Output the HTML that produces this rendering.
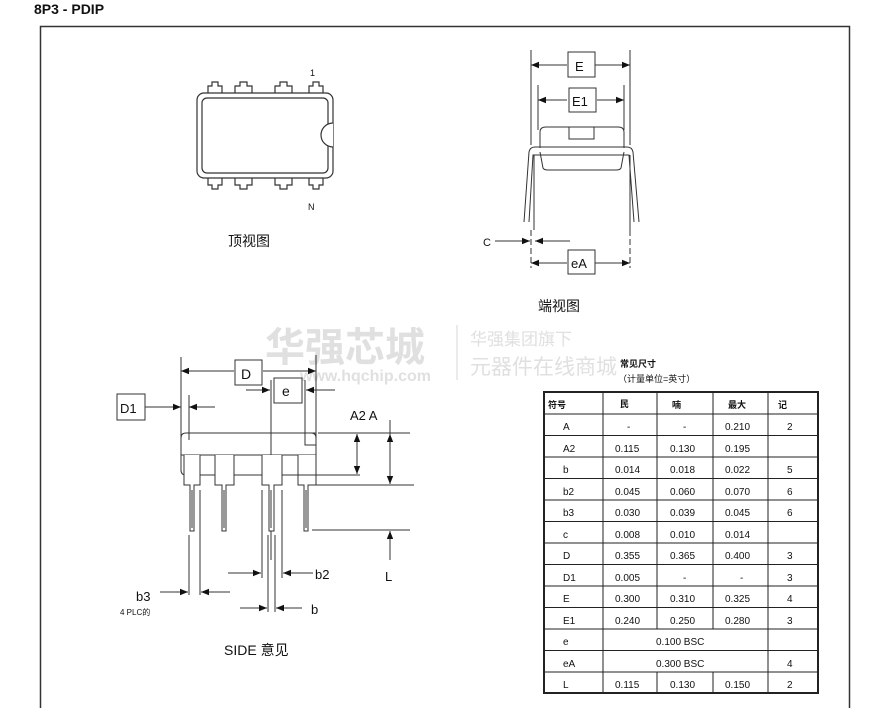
<!DOCTYPE html>
<html><head><meta charset="utf-8"><style>
body{margin:0;background:#fff;width:888px;height:708px;overflow:hidden}
text{font-family:"Liberation Sans","Noto Sans CJK SC",sans-serif;fill:#111}
</style></head><body>
<svg width="888" height="708" viewBox="0 0 888 708" xmlns="http://www.w3.org/2000/svg">
<defs>
<marker id="a" viewBox="0 0 10 10" refX="10" refY="5" markerWidth="14" markerHeight="8" markerUnits="userSpaceOnUse" orient="auto-start-reverse"><path d="M0,1 L10,5 L0,9 z" fill="#111"/></marker>
</defs>
<text x="34" y="14" font-size="14" font-weight="bold">8P3 - PDIP</text>
<rect x="40.5" y="26.5" width="809" height="700" fill="none" stroke="#333" stroke-width="1.5"/>

<g>
<text x="265" y="361" font-size="40" font-weight="bold" style="fill:#e0e0e0">华强芯城</text>
<text x="300" y="381" font-size="16" font-weight="bold" style="fill:#e0e0e0">www.hqchip.com</text>
<text x="470" y="345" font-size="17" style="fill:#e0e0e0">华强集团旗下</text>
<text x="470" y="374" font-size="21" style="fill:#e0e0e0">元器件在线商城</text>
</g>
<line x1="457" y1="325" x2="457" y2="380" stroke="#e4e4e4" stroke-width="1.5"/>

<g fill="none" stroke="#333" stroke-width="1.2">
<rect x="197" y="93" width="136" height="85" rx="7"/>
<rect x="202" y="98" width="126" height="75" rx="5"/>
<path d="M333,123 A12,12 0 0 0 333,147" fill="#fff"/>
<g id="pt">
<path d="M208,93 V86 H212 V82 H218 V86 H222 V93"/>
<path d="M235,93 V86 H240 V82 H247 V86 H252 V93"/>
<path d="M275,93 V86 H280 V82 H287 V86 H292 V93"/>
<path d="M309,93 V86 H313 V82 H319 V86 H323 V93"/>
</g>
<use href="#pt" transform="translate(0,271) scale(1,-1)"/>
</g>
<text x="310" y="76" font-size="9">1</text>
<text x="308" y="210" font-size="9">N</text>
<text x="228" y="246" font-size="14">顶视图</text>

<g fill="none" stroke="#333" stroke-width="1">
<line x1="531" y1="50" x2="531" y2="145"/><line x1="630" y1="50" x2="630" y2="145"/>
<line x1="538" y1="85" x2="538" y2="130"/><line x1="624" y1="85" x2="624" y2="130"/>
<line x1="531" y1="65" x2="567" y2="65" marker-start="url(#a)"/><line x1="595" y1="65" x2="630" y2="65" marker-end="url(#a)"/>
<line x1="538" y1="100" x2="567" y2="100" marker-start="url(#a)"/><line x1="597" y1="100" x2="624" y2="100" marker-end="url(#a)"/>
<rect x="568" y="52" width="27" height="25"/>
<rect x="569" y="88" width="27" height="24"/>
<path d="M540,148 V132 Q540,127 546,127 H618 Q624,127 624,132 V148"/>
<rect x="569" y="127" width="25" height="12"/>
<path d="M540,152 L543,168 Q544,170 548,170 H616 Q620,170 621,168 L624,152"/>
<path d="M524,222 L529,152 Q530,147 535,147 H627 Q632,147 633,152 L639,222"/>
<path d="M529,222 L533,155 H629 L634,222"/>
<line x1="534" y1="155" x2="534" y2="230"/><line x1="630" y1="155" x2="630" y2="230"/>
<line x1="531" y1="230" x2="531" y2="268" stroke-dasharray="6,3"/><line x1="630" y1="230" x2="630" y2="268" stroke-dasharray="6,3"/>
<line x1="495" y1="241" x2="530" y2="241" marker-end="url(#a)"/><line x1="570" y1="241" x2="535" y2="241" marker-end="url(#a)"/>
<line x1="531" y1="263" x2="567" y2="263" marker-start="url(#a)"/><line x1="595" y1="263" x2="630" y2="263" marker-end="url(#a)"/>
<rect x="568" y="250" width="27" height="24"/>
</g>
<text x="575" y="71" font-size="13">E</text>
<text x="572" y="106" font-size="13">E1</text>
<text x="483" y="246" font-size="11">C</text>
<text x="571" y="268" font-size="13">eA</text>
<text x="538" y="311" font-size="14">端视图</text>

<g fill="none" stroke="#333" stroke-width="1">
<line x1="181" y1="357" x2="181" y2="440"/><line x1="316" y1="355" x2="316" y2="440"/>
<line x1="181" y1="371" x2="234" y2="371" marker-start="url(#a)"/><line x1="263" y1="371" x2="316" y2="371" marker-end="url(#a)"/>
<rect x="235" y="360" width="27" height="25"/>
<rect x="274" y="378" width="28" height="25"/>
<line x1="246" y1="390" x2="270" y2="390" marker-end="url(#a)"/><line x1="335" y1="390" x2="306" y2="390" marker-end="url(#a)"/>
<line x1="271" y1="380" x2="271" y2="560"/><line x1="305" y1="380" x2="305" y2="440"/>
<rect x="117" y="394" width="28" height="26"/>
<line x1="145" y1="407" x2="181" y2="407" marker-end="url(#a)"/><line x1="215" y1="407" x2="189" y2="407" marker-end="url(#a)"/>
<line x1="189" y1="395" x2="189" y2="440"/>
<path d="M181,455 V438 Q181,433 186,433 H311 Q316,433 316,438 V455"/>
<rect x="305" y="433" width="11" height="12"/>
<path d="M181,455 H316"/>
<path d="M181,455 V470 Q181,475 186,475 H316 V455"/>
<path d="M184,455 V485 H190 V531 H194 V485 H200 V455" fill="#fff"/>
<path d="M215,455 V485 H222 V531 H226 V485 H234 V455" fill="#fff"/>
<path d="M262,455 V485 H269 V531 H274 V485 H282 V455" fill="#fff"/>
<path d="M298,455 V485 H304 V531 H308 V485 H316 V455" fill="#fff"/>
<line x1="192" y1="490" x2="192" y2="528"/><line x1="224" y1="490" x2="224" y2="528"/><line x1="271" y1="490" x2="271" y2="528"/><line x1="306" y1="490" x2="306" y2="528"/>
<line x1="318" y1="433" x2="410" y2="433"/><line x1="296" y1="475" x2="360" y2="475"/><line x1="312" y1="485" x2="414" y2="485"/><line x1="312" y1="530" x2="410" y2="530"/>
<line x1="357" y1="455" x2="357" y2="434" marker-end="url(#a)"/><line x1="357" y1="455" x2="357" y2="474" marker-end="url(#a)"/>
<line x1="390" y1="420" x2="390" y2="434"/><line x1="390" y1="458" x2="390" y2="434" marker-end="url(#a)"/><line x1="390" y1="458" x2="390" y2="484" marker-end="url(#a)"/>
<line x1="390" y1="560" x2="390" y2="531" marker-end="url(#a)"/>
<line x1="189" y1="535" x2="189" y2="595"/><line x1="200" y1="490" x2="200" y2="595"/>
<line x1="160" y1="592" x2="188" y2="592" marker-end="url(#a)"/><line x1="230" y1="592" x2="201" y2="592" marker-end="url(#a)"/>
<line x1="262" y1="490" x2="262" y2="578"/><line x1="282" y1="490" x2="282" y2="578"/>
<line x1="228" y1="573" x2="261" y2="573" marker-end="url(#a)"/><line x1="313" y1="573" x2="283" y2="573" marker-end="url(#a)"/>
<line x1="268" y1="535" x2="268" y2="612"/><line x1="275" y1="535" x2="275" y2="612"/>
<line x1="240" y1="608" x2="267" y2="608" marker-end="url(#a)"/><line x1="302" y1="608" x2="276" y2="608" marker-end="url(#a)"/>
</g>
<text x="241" y="379" font-size="14">D</text>
<text x="282" y="396" font-size="14">e</text>
<text x="120" y="413" font-size="13">D1</text>
<text x="350" y="420" font-size="13">A2 A</text>
<text x="385" y="581" font-size="13">L</text>
<text x="136" y="601" font-size="13">b3</text>
<text x="120" y="615" font-size="8">4 PLC的</text>
<text x="315" y="579" font-size="13">b2</text>
<text x="311" y="614" font-size="13">b</text>
<text x="224" y="655" font-size="14">SIDE 意见</text>

<text x="620" y="367" font-size="9" font-weight="bold">常见尺寸</text>
<text x="618" y="382" font-size="9">（计量单位=英寸）</text>
<g stroke="#222" fill="none">
<rect x="544" y="392" width="274" height="301" stroke-width="2"/>
<g stroke-width="1">
<line x1="544" y1="414" x2="818" y2="414"/><line x1="544" y1="435.5" x2="818" y2="435.5"/><line x1="544" y1="457" x2="818" y2="457"/><line x1="544" y1="478.5" x2="818" y2="478.5"/><line x1="544" y1="500" x2="818" y2="500"/><line x1="544" y1="521.5" x2="818" y2="521.5"/><line x1="544" y1="543" x2="818" y2="543"/><line x1="544" y1="564.5" x2="818" y2="564.5"/><line x1="544" y1="586" x2="818" y2="586"/><line x1="544" y1="607.5" x2="818" y2="607.5"/><line x1="544" y1="629" x2="818" y2="629"/><line x1="544" y1="650.5" x2="818" y2="650.5"/><line x1="544" y1="672" x2="818" y2="672"/>
<line x1="603" y1="392" x2="603" y2="693"/>
<line x1="657" y1="392" x2="657" y2="629"/><line x1="657" y1="672" x2="657" y2="693"/>
<line x1="713" y1="392" x2="713" y2="629"/><line x1="713" y1="672" x2="713" y2="693"/>
<line x1="768" y1="392" x2="768" y2="693"/>
</g></g>
<g font-size="10">
<text x="548" y="408" font-weight="bold" font-size="9">符号</text><text x="620" y="407" font-weight="bold" font-size="9">民</text><text x="672" y="408" font-weight="bold" font-size="9">喃</text><text x="728" y="408" font-weight="bold" font-size="9">最大</text><text x="778" y="408" font-weight="bold" font-size="9">记</text>
<text x="563" y="430">A</text><text x="627" y="430">-</text><text x="683" y="430">-</text><text x="725" y="430">0.210</text><text x="787" y="430">2</text>
<text x="563" y="452">A2</text><text x="615" y="452">0.115</text><text x="670" y="452">0.130</text><text x="725" y="452">0.195</text>
<text x="563" y="473">b</text><text x="615" y="473">0.014</text><text x="670" y="473">0.018</text><text x="725" y="473">0.022</text><text x="787" y="473">5</text>
<text x="563" y="495">b2</text><text x="615" y="495">0.045</text><text x="670" y="495">0.060</text><text x="725" y="495">0.070</text><text x="787" y="495">6</text>
<text x="563" y="516">b3</text><text x="615" y="516">0.030</text><text x="670" y="516">0.039</text><text x="725" y="516">0.045</text><text x="787" y="516">6</text>
<text x="563" y="538">c</text><text x="615" y="538">0.008</text><text x="670" y="538">0.010</text><text x="725" y="538">0.014</text>
<text x="563" y="559">D</text><text x="615" y="559">0.355</text><text x="670" y="559">0.365</text><text x="725" y="559">0.400</text><text x="787" y="559">3</text>
<text x="563" y="581">D1</text><text x="615" y="581">0.005</text><text x="683" y="581">-</text><text x="740" y="581">-</text><text x="787" y="581">3</text>
<text x="563" y="602">E</text><text x="615" y="602">0.300</text><text x="670" y="602">0.310</text><text x="725" y="602">0.325</text><text x="787" y="602">4</text>
<text x="563" y="624">E1</text><text x="615" y="624">0.240</text><text x="670" y="624">0.250</text><text x="725" y="624">0.280</text><text x="787" y="624">3</text>
<text x="563" y="645">e</text><text x="656" y="645">0.100 BSC</text>
<text x="563" y="667">eA</text><text x="656" y="667">0.300 BSC</text><text x="787" y="667">4</text>
<text x="563" y="688">L</text><text x="615" y="688">0.115</text><text x="670" y="688">0.130</text><text x="725" y="688">0.150</text><text x="787" y="688">2</text>
</g>
</svg>
</body></html>
